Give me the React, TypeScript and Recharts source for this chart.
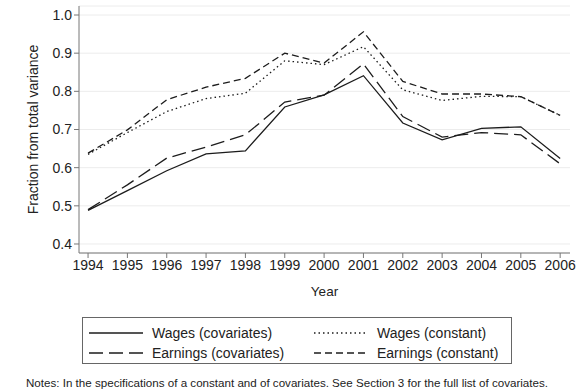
import React from 'react';
import { LineChart, Line, XAxis, YAxis, CartesianGrid } from 'recharts';

const years = [1994, 1995, 1996, 1997, 1998, 1999, 2000, 2001, 2002, 2003, 2004, 2005, 2006];
const wagesCov = [0.488, 0.540, 0.592, 0.636, 0.644, 0.759, 0.791, 0.841, 0.717, 0.673, 0.703, 0.707, 0.624];
const earningsCov = [0.490, 0.555, 0.625, 0.654, 0.686, 0.772, 0.790, 0.872, 0.734, 0.680, 0.692, 0.686, 0.610];
const wagesConst = [0.635, 0.692, 0.747, 0.781, 0.795, 0.880, 0.870, 0.917, 0.804, 0.776, 0.787, 0.786, 0.737];
const earningsConst = [0.638, 0.699, 0.778, 0.811, 0.834, 0.900, 0.874, 0.956, 0.826, 0.793, 0.793, 0.786, 0.737];
const yTicks = [0.4, 0.5, 0.6, 0.7, 0.8, 0.9, 1.0];

const data = years.map((year, i) => ({
    year,
    wagesCov: wagesCov[i],
    earningsCov: earningsCov[i],
    wagesConst: wagesConst[i],
    earningsConst: earningsConst[i],
}));

const FONT = '"Liberation Sans", Arial, sans-serif';
const INK = '#1c1c1c';

// legend order: row by row, two columns
const series = [
    { key: 'wagesCov', name: 'Wages (covariates)', dash: undefined },
    { key: 'wagesConst', name: 'Wages (constant)', dash: '1.5 3' },
    { key: 'earningsCov', name: 'Earnings (covariates)', dash: '14 6' },
    { key: 'earningsConst', name: 'Earnings (constant)', dash: '7 4' },
];

const LegendBox = () => (
    <div
        style={{
            position: 'absolute',
            left: 82,
            top: 317,
            width: 428,
            height: 45,
            border: '1px solid #666',
            fontSize: 14,
            color: '#222',
        }}
    >
        {series.map((s, i) => {
            const col = i % 2;
            const row = Math.floor(i / 2);
            const left = col === 0 ? 5 : 230;
            const top = row === 0 ? 5 : 25;
            return (
                <div key={s.key} style={{ position: 'absolute', left, top, height: 20, display: 'flex', alignItems: 'center' }}>
                    <svg width={56} height={20}>
                        <line x1={1} y1={10} x2={55} y2={10} stroke={INK} strokeWidth={1.3} strokeDasharray={s.dash} />
                    </svg>
                    <span style={{ marginLeft: 8, whiteSpace: 'nowrap' }}>{s.name}</span>
                </div>
            );
        })}
    </div>
);

export default function App() {
    return (
        <div style={{ position: 'absolute', left: 0, top: 0, width: 586, height: 390, background: '#fff', overflow: 'hidden', fontFamily: FONT }}>
            <LineChart width={586} height={390} data={data} margin={{ top: 6, right: 16, left: 0, bottom: 92 }}>
                <CartesianGrid horizontal vertical={false} stroke="#ececec" />
                <XAxis
                    dataKey="year"
                    type="number"
                    domain={[1993.77, 2006.25]}
                    ticks={years}
                    tickFormatter={(v) => String(v)}
                    height={45}
                    tickSize={5}
                    axisLine={{ stroke: '#777' }}
                    tickLine={{ stroke: '#777' }}
                    tick={{ fill: '#222', fontSize: 14, fontFamily: FONT }}
                    label={{ value: 'Year', position: 'insideBottom', offset: 2, fill: '#222', fontSize: 13.5, fontFamily: FONT }}
                />
                <YAxis
                    type="number"
                    domain={[0.3764, 1.0236]}
                    ticks={yTicks}
                    tickFormatter={(v) => v.toFixed(1)}
                    width={79}
                    tickSize={5}
                    axisLine={{ stroke: '#777' }}
                    tickLine={{ stroke: '#777' }}
                    tick={{ fill: '#222', fontSize: 14, fontFamily: FONT }}
                    label={{
                        value: 'Fraction from total variance',
                        angle: -90,
                        position: 'insideLeft',
                        offset: 33,
                        fill: '#222',
                        fontSize: 14,
                        fontFamily: FONT,
                        style: { textAnchor: 'middle' },
                    }}
                />
                {series.map((s) => (
                    <Line
                        key={s.key}
                        type="linear"
                        dataKey={s.key}
                        name={s.name}
                        stroke={INK}
                        strokeWidth={1.3}
                        strokeDasharray={s.dash}
                        dot={false}
                        activeDot={false}
                        isAnimationActive={false}
                    />
                ))}
            </LineChart>
            <LegendBox />
            <div style={{ position: 'absolute', left: 26, top: 376, fontSize: 11.6, lineHeight: '13px', color: '#222', whiteSpace: 'nowrap' }}>
                Notes: In the specifications of a constant and of covariates. See Section 3 for the full list of covariates.
            </div>
        </div>
    );
}
